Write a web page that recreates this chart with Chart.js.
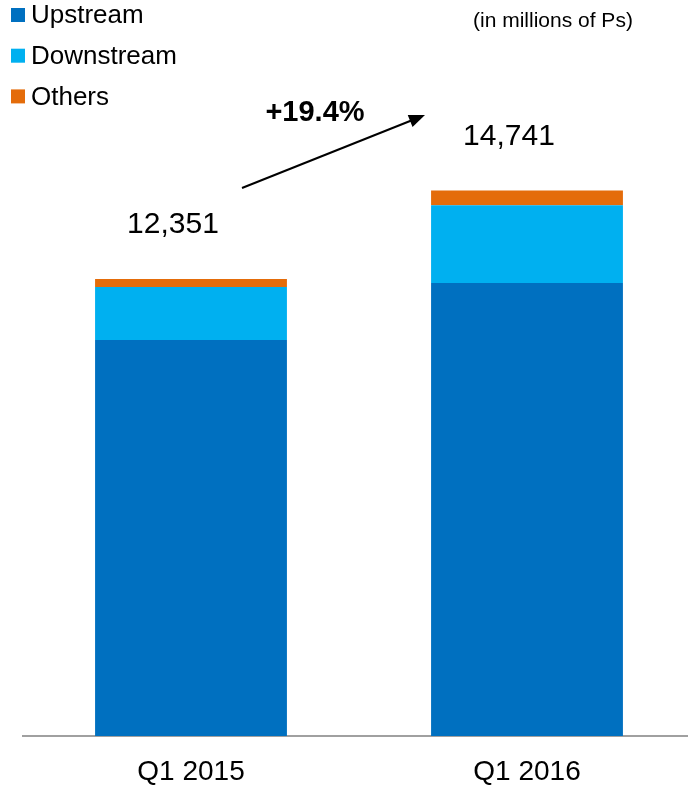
<!DOCTYPE html>
<html>
<head>
<meta charset="utf-8">
<script src="https://cdn.jsdelivr.net/npm/chart.js@4"></script>
<style>
  html, body { margin: 0; padding: 0; background: #fff; overflow: hidden; }
  #wrap { width: 688px; height: 785px; overflow: hidden; }
</style>
</head>
<body>
<div id="wrap"><canvas id="chart" width="695" height="785"></canvas></div>
<script>
const FONT = "'Liberation Sans', Arial, sans-serif";

const quarters = ["Q1 2015", "Q1 2016"];
const upstream = [10700, 12245];
const downstream = [1435, 2100];
const others = [216, 396];
const growthLabel = "+19.4%";
const unitNote = "(in millions of Ps)";

// totals on top of each stacked column
const totalsPlugin = {
  id: "totals",
  afterDatasetsDraw(chart) {
    const ctx = chart.ctx;
    const top = chart.getDatasetMeta(chart.data.datasets.length - 1);
    ctx.save();
    ctx.font = "30px " + FONT;
    ctx.fillStyle = "#000";
    ctx.textAlign = "center";
    ctx.textBaseline = "middle";
    quarters.forEach((q, i) => {
      const total = upstream[i] + downstream[i] + others[i];
      const bar = top.data[i];
      ctx.fillText(total.toLocaleString("en-US"), bar.x - 18, bar.y - 54);
    });
    ctx.restore();
  }
};

// growth arrow between the two totals, plus the unit note
const growthPlugin = {
  id: "growth",
  afterDraw(chart) {
    const ctx = chart.ctx;
    const x0 = 242, y0 = 188, x1 = 425, y1 = 115;
    const ang = Math.atan2(y1 - y0, x1 - x0);
    ctx.save();
    ctx.strokeStyle = "#000";
    ctx.fillStyle = "#000";
    ctx.lineWidth = 2;
    ctx.beginPath();
    ctx.moveTo(x0, y0);
    ctx.lineTo(x1 - 12 * Math.cos(ang), y1 - 12 * Math.sin(ang));
    ctx.stroke();
    ctx.beginPath();
    ctx.moveTo(x1, y1);
    ctx.lineTo(x1 - 16 * Math.cos(ang) + 6.5 * Math.sin(ang), y1 - 16 * Math.sin(ang) - 6.5 * Math.cos(ang));
    ctx.lineTo(x1 - 16 * Math.cos(ang) - 6.5 * Math.sin(ang), y1 - 16 * Math.sin(ang) + 6.5 * Math.cos(ang));
    ctx.closePath();
    ctx.fill();

    ctx.font = "bold 29px " + FONT;
    ctx.textAlign = "center";
    ctx.textBaseline = "middle";
    ctx.fillText(growthLabel, 315, 113);

    ctx.font = "21px " + FONT;
    ctx.textAlign = "left";
    ctx.fillText(unitNote, 473, 21);
    ctx.restore();
  }
};

// stacked legend in the top-left corner
const legendPlugin = {
  id: "cornerLegend",
  afterDraw(chart) {
    const ctx = chart.ctx;
    ctx.save();
    ctx.font = "26px " + FONT;
    ctx.textAlign = "left";
    ctx.textBaseline = "middle";
    chart.data.datasets.forEach((ds, i) => {
      const cy = 15 + i * 40.7;
      ctx.fillStyle = ds.backgroundColor;
      ctx.fillRect(11, cy - 7, 14, 14);
      ctx.fillStyle = "#000";
      ctx.fillText(ds.label, 31, cy + 1);
    });
    ctx.restore();
  }
};

new Chart(document.getElementById("chart"), {
  type: "bar",
  data: {
    labels: quarters,
    datasets: [
      { label: "Upstream", data: upstream, backgroundColor: "#0070C0" },
      { label: "Downstream", data: downstream, backgroundColor: "#00B0F0" },
      { label: "Others", data: others, backgroundColor: "#E46C0A" }
    ]
  },
  options: {
    responsive: false,
    animation: false,
    layout: { padding: { top: 0, left: 23, right: 0, bottom: 0 } },
    datasets: { bar: { categoryPercentage: 1, barPercentage: 0.571, borderWidth: 0 } },
    plugins: {
      legend: { display: false },
      tooltip: { enabled: false }
    },
    scales: {
      x: {
        stacked: true,
        grid: { display: false, drawTicks: false },
        border: { display: true, color: "#a0a0a0", width: 2 },
        ticks: {
          color: "#000",
          padding: 22,
          font: { family: FONT, size: 28, lineHeight: 1 }
        },
        afterFit(scale) { scale.height = 49; }
      },
      y: {
        stacked: true,
        display: false,
        min: 0,
        max: 19890
      }
    }
  },
  plugins: [totalsPlugin, growthPlugin, legendPlugin]
});
</script>
</body>
</html>
